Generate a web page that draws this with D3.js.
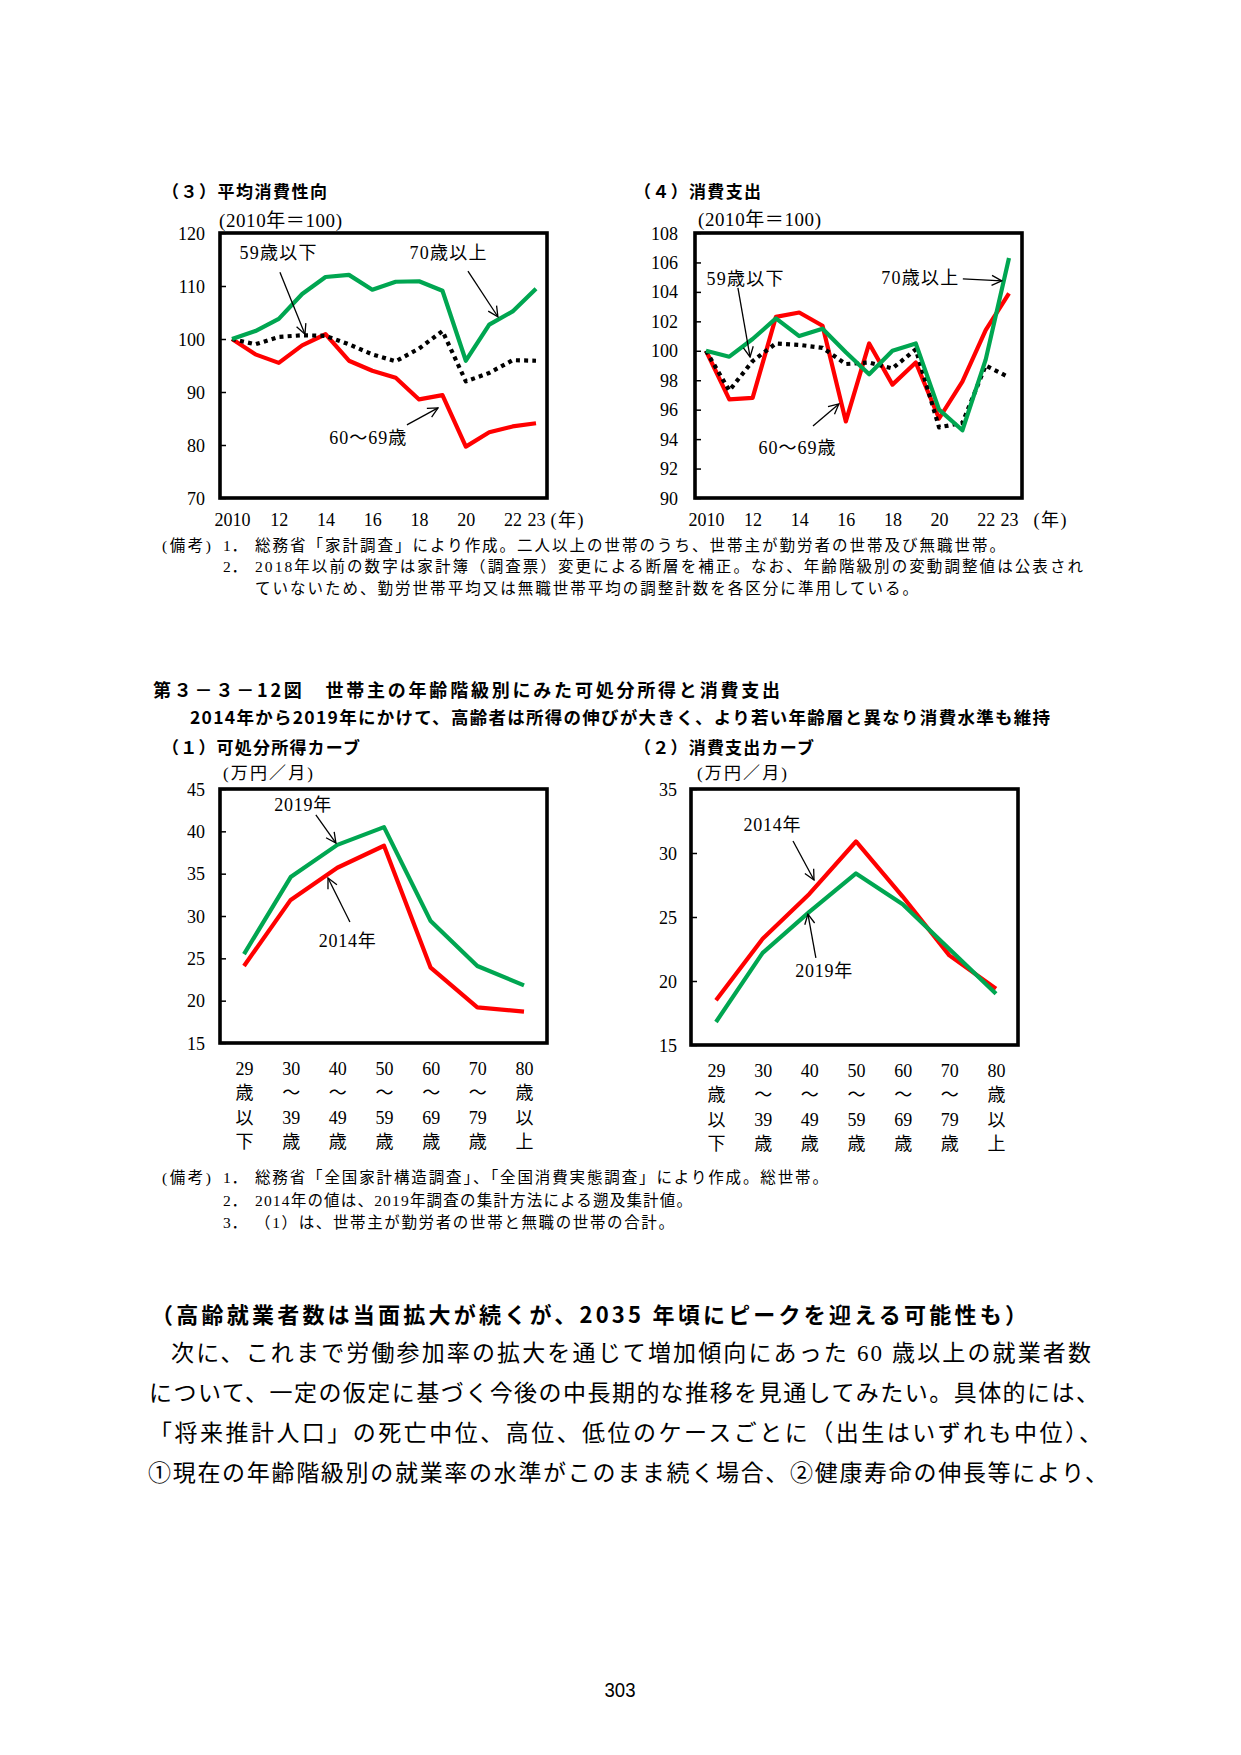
<!DOCTYPE html>
<html>
<head>
<meta charset="utf-8">
<script src="https://cdn.jsdelivr.net/npm/d3@7"></script>
<style>
  body { margin: 0; background: #fff; }
</style>
</head>
<body>
<script>
// ---- data ----
const years = [2010, 2011, 2012, 2013, 2014, 2015, 2016, 2017, 2018, 2019, 2020, 2021, 2022, 2023];
const yearTicks = [2010, 2012, 2014, 2016, 2018, 2020, 2022, 2023];
const yearTickLabels = ["2010", "12", "14", "16", "18", "20", "22", "23"];

// (3) average propensity to consume, 2010 = 100
const apcUnder59 = [100, 99.0, 100.4, 100.7, 100.6, 99.0, 97.1, 95.8, 98.2, 101.5, 92.0, 93.6, 96.0, 95.9];
const apc60s     = [100, 97.1, 95.5, 98.8, 100.9, 95.9, 94.0, 92.7, 88.6, 89.4, 79.7, 82.4, 83.5, 84.1];
const apc70plus  = [100, 101.5, 103.8, 108.5, 111.7, 112.1, 109.3, 110.8, 110.9, 109.1, 95.9, 102.7, 105.2, 109.5];
const apcTicks = [70, 80, 90, 100, 110, 120];

// (4) consumption expenditure, 2010 = 100
const spendUnder59 = [100, 97.3, 99.3, 100.5, 100.4, 100.2, 99.1, 99.2, 98.8, 100.1, 94.8, 95.1, 99.0, 98.2];
const spend60s     = [100, 96.7, 96.8, 102.3, 102.6, 101.7, 95.2, 100.5, 97.7, 99.2, 95.4, 97.9, 101.4, 103.9];
const spend70plus  = [100, 99.6, 100.8, 102.2, 101.0, 101.5, 99.9, 98.4, 100.0, 100.5, 96.0, 94.6, 99.4, 106.3];
const spendTicks = [90, 92, 94, 96, 98, 100, 102, 104, 106, 108];

// fig 3-3-12, by age of household head (10k yen / month)
const ageGroups = [
  ["29", "歳", "以", "下"], ["30", "～", "39", "歳"], ["40", "～", "49", "歳"], ["50", "～", "59", "歳"],
  ["60", "～", "69", "歳"], ["70", "～", "79", "歳"], ["80", "歳", "以", "上"]
];
const income2014 = [24.1, 31.9, 35.7, 38.3, 23.9, 19.2, 18.7];
const income2019 = [25.5, 34.6, 38.4, 40.5, 29.4, 24.1, 21.8];
const incomeTicks = [15, 20, 25, 30, 35, 40, 45];
const curve2014 = [18.5, 23.3, 26.8, 30.9, 26.6, 22.0, 19.4];
const curve2019 = [16.8, 22.2, 25.4, 28.4, 26.0, 22.5, 19.0];
const curveTicks = [15, 20, 25, 30, 35];

const RED = "#ff0000", GREEN = "#00a651";
const serif = "'Liberation Serif', 'Noto Sans CJK JP', serif";
const gothic = "'Noto Sans CJK JP', sans-serif";

const svg = d3.select("body").append("svg")
    .attr("width", 1241).attr("height", 1755)
    .style("display", "block");
svg.append("rect").attr("width", 1241).attr("height", 1755).attr("fill", "#fff");

svg.append("defs").append("marker")
    .attr("id", "arr")
    .attr("viewBox", "0 0 12 12")
    .attr("refX", 11).attr("refY", 6)
    .attr("markerWidth", 12).attr("markerHeight", 12)
    .attr("markerUnits", "userSpaceOnUse")
    .attr("orient", "auto")
  .append("path")
    .attr("d", "M1,1 L11,6 L1,11")
    .attr("fill", "none").attr("stroke", "#000").attr("stroke-width", 1.3);

function label(sel, s, x, y, o = {}) {
  const t = sel.append("text")
      .attr("x", x).attr("y", y)
      .attr("dominant-baseline", "central")
      .attr("font-family", o.family || serif)
      .attr("font-size", o.size || 16)
      .attr("font-weight", o.weight || 400)
      .attr("text-anchor", o.anchor || "start")
      .attr("fill", "#000")
      .text(s);
  if (o.len) t.attr("textLength", o.len).attr("lengthAdjust", o.adjust || "spacing");
  return t;
}

function lineChart(c) {
  const g = svg.append("g");
  const x = d3.scaleLinear().domain(c.xDomain).range(c.xRange);
  const y = d3.scaleLinear().domain(c.yDomain).range([c.box[3], c.box[1]]);

  g.append("g")
      .attr("transform", `translate(${c.box[0]},0)`)
      .call(d3.axisLeft(y).tickValues(c.yTicks).tickSize(-6).tickPadding(c.pad))
      .call(a => a.select(".domain").remove())
      .call(a => a.selectAll("line").attr("stroke", "#000").attr("stroke-width", 1.5))
      .call(a => a.selectAll("text")
          .attr("font-family", serif).attr("font-size", 18).attr("fill", "#000")
          .attr("dy", null).attr("dominant-baseline", "central"));

  const line = d3.line()
      .x((d, i) => x(c.xs[i]))
      .y(d => y(d));

  c.series.forEach(s => {
    g.append("path")
        .datum(s.values)
        .attr("d", line)
        .attr("fill", "none")
        .attr("stroke", s.color)
        .attr("stroke-width", 4.2)
        .attr("stroke-linejoin", "round")
        .attr("stroke-dasharray", s.dash || null);
  });

  g.append("rect")
      .attr("x", c.box[0]).attr("y", c.box[1])
      .attr("width", c.box[2] - c.box[0]).attr("height", c.box[3] - c.box[1])
      .attr("fill", "none").attr("stroke", "#000").attr("stroke-width", 3.6);

  (c.notes || []).forEach(n => {
    label(g, n.text, x(n.at[0]), y(n.at[1]), { size: 18, anchor: "middle", len: n.len });
    g.append("line")
        .attr("x1", x(n.from[0])).attr("y1", y(n.from[1]))
        .attr("x2", x(n.to[0])).attr("y2", y(n.to[1]))
        .attr("stroke", "#000").attr("stroke-width", 1.3)
        .attr("marker-end", "url(#arr)");
  });

  return { g, x, y };
}

// ---------- (3) 平均消費性向 ----------
label(svg, "（３）平均消費性向", 162, 190, { family: gothic, weight: 700, size: 17, len: 165 });
label(svg, "(2010年＝100)", 219, 220, { size: 19, len: 123 });
const c3 = lineChart({
  box: [220, 233, 547, 498], xDomain: [2010, 2023], xRange: [232, 536],
  yDomain: [70, 120], yTicks: apcTicks, pad: 15, xs: years,
  series: [
    { values: apc60s, color: RED },
    { values: apcUnder59, color: "#000", dash: "4,4.2" },
    { values: apc70plus, color: GREEN }
  ],
  notes: [
    { text: "59歳以下", at: [2011.97, 116.2], len: 77, from: [2012.05, 112.6], to: [2013.12, 100.9] },
    { text: "70歳以上", at: [2019.24, 116.2], len: 77, from: [2020.09, 112.8], to: [2021.37, 104.2] },
    { text: "60～69歳", at: [2015.8, 81.3], len: 77, from: [2017.48, 83.8], to: [2018.81, 87.0] }
  ]
});

// ---------- (4) 消費支出 ----------
label(svg, "（４）消費支出", 634, 190, { family: gothic, weight: 700, size: 17, len: 127 });
label(svg, "(2010年＝100)", 698, 219, { size: 19, len: 123 });
const c4 = lineChart({
  box: [695, 233, 1022, 498], xDomain: [2010, 2023], xRange: [706, 1009],
  yDomain: [90, 108], yTicks: spendTicks, pad: 17, xs: years,
  series: [
    { values: spend60s, color: RED },
    { values: spendUnder59, color: "#000", dash: "4,4.2" },
    { values: spend70plus, color: GREEN }
  ],
  notes: [
    { text: "59歳以下", at: [2011.67, 104.88], len: 77, from: [2011.37, 104.27], to: [2011.89, 99.58] },
    { text: "70歳以上", at: [2019.17, 104.95], len: 77, from: [2021.02, 104.88], to: [2022.69, 104.75] },
    { text: "60～69歳", at: [2013.9, 93.4], len: 77, from: [2014.59, 94.89], to: [2015.7, 96.39] }
  ]
});

// year axes under (3) and (4)
[c3, c4].forEach((c, k) => {
  const bottom = 498;
  svg.append("g")
      .attr("transform", `translate(0,${bottom})`)
      .call(d3.axisBottom(c.x).tickValues(yearTicks).tickSize(0)
          .tickFormat((d, i) => yearTickLabels[i]))
      .call(a => a.select(".domain").remove())
      .call(a => a.selectAll("text")
          .attr("font-family", serif).attr("font-size", 18).attr("fill", "#000")
          .attr("y", 22).attr("dy", null).attr("dominant-baseline", "central"));
  label(svg, "(年)", k === 0 ? 567 : 1050, 520, { size: 18, anchor: "middle", len: 33 });
});

// notes for (3)(4)
const noteSize = 15.5;
label(svg, "(備考)", 162, 545, { size: noteSize, len: 49 });
label(svg, "1．", 223, 545, { size: noteSize, len: 24 });
label(svg, "総務省「家計調査」により作成。二人以上の世帯のうち、世帯主が勤労者の世帯及び無職世帯。", 255, 545, { size: noteSize, len: 750 });
label(svg, "2．", 223, 566, { size: noteSize, len: 24 });
label(svg, "2018年以前の数字は家計簿（調査票）変更による断層を補正。なお、年齢階級別の変動調整値は公表され", 255, 566, { size: noteSize, len: 828 });
label(svg, "ていないため、勤労世帯平均又は無職世帯平均の調整計数を各区分に準用している。", 255, 588, { size: noteSize, len: 663 });

// ---------- 第３－３－12図 ----------
label(svg, "第３－３－12図　世帯主の年齢階級別にみた可処分所得と消費支出", 153, 689, { family: gothic, weight: 700, size: 18, len: 627 });
label(svg, "2014年から2019年にかけて、高齢者は所得の伸びが大きく、より若い年齢層と異なり消費水準も維持", 190, 716, { family: gothic, weight: 700, size: 17.5, len: 860 });
label(svg, "（１）可処分所得カーブ", 162, 746, { family: gothic, weight: 700, size: 17, len: 198 });
label(svg, "（２）消費支出カーブ", 634, 746, { family: gothic, weight: 700, size: 17, len: 180 });
label(svg, "(万円／月)", 223, 773, { size: 17, len: 90 });
label(svg, "(万円／月)", 697, 773, { size: 17, len: 90 });

const c1 = lineChart({
  box: [220, 789, 547, 1043], xDomain: [0, ageGroups.length - 1], xRange: [244, 524],
  yDomain: [15, 45], yTicks: incomeTicks, pad: 15, xs: d3.range(ageGroups.length),
  series: [
    { values: income2014, color: RED },
    { values: income2019, color: GREEN }
  ],
  notes: [
    { text: "2019年", at: [1.26, 43.1], len: 57, from: [1.54, 41.93], to: [1.97, 38.62] },
    { text: "2014年", at: [2.21, 27.1], len: 57, from: [2.27, 29.29], to: [1.8, 34.49] }
  ]
});

const c2 = lineChart({
  box: [691, 789, 1018, 1045], xDomain: [0, ageGroups.length - 1], xRange: [716, 996],
  yDomain: [15, 35], yTicks: curveTicks, pad: 14, xs: d3.range(ageGroups.length),
  series: [
    { values: curve2014, color: RED },
    { values: curve2019, color: GREEN }
  ],
  notes: [
    { text: "2014年", at: [1.2, 32.19], len: 57, from: [1.65, 30.94], to: [2.1, 27.89] },
    { text: "2019年", at: [2.31, 20.78], len: 57, from: [2.14, 21.8], to: [1.97, 25.23] }
  ]
});

// stacked age labels under the curves
[[c1, 1043], [c2, 1045]].forEach(([c, bottom]) => {
  svg.append("g")
      .attr("transform", `translate(0,${bottom})`)
      .call(d3.axisBottom(c.x).tickValues(d3.range(ageGroups.length)).tickSize(0))
      .call(a => a.select(".domain").remove())
      .call(a => a.selectAll("text")
          .attr("font-family", serif).attr("font-size", 18).attr("fill", "#000")
          .attr("dy", null).attr("dominant-baseline", "central")
          .each(function(d) {
            const t = d3.select(this).text(null);
            ageGroups[d].forEach((s, k) => {
              t.append("tspan").attr("x", 0).attr("y", 26 + k * 24.4).text(s);
            });
          }));
});

// notes for 3-3-12
label(svg, "(備考)", 162, 1177, { size: noteSize, len: 49 });
label(svg, "1．", 223, 1177, { size: noteSize, len: 24 });
label(svg, "総務省「全国家計構造調査」、「全国消費実態調査」により作成。総世帯。", 255, 1177, { size: noteSize, len: 573 });
label(svg, "2．", 223, 1200, { size: noteSize, len: 24 });
label(svg, "2014年の値は、2019年調査の集計方法による遡及集計値。", 255, 1200, { size: noteSize, len: 437 });
label(svg, "3．", 223, 1222, { size: noteSize, len: 24 });
label(svg, "（1）は、世帯主が勤労者の世帯と無職の世帯の合計。", 255, 1222, { size: noteSize, len: 419 });

// ---------- body text ----------
label(svg, "（高齢就業者数は当面拡大が続くが、2035 年頃にピークを迎える可能性も）", 151, 1313, { family: gothic, weight: 700, size: 22, len: 876 });
label(svg, "次に、これまで労働参加率の拡大を通じて増加傾向にあった 60 歳以上の就業者数", 171, 1353, { size: 23, len: 920 });
label(svg, "について、一定の仮定に基づく今後の中長期的な推移を見通してみたい。具体的には、", 149, 1393, { size: 23, len: 950 });
label(svg, "「将来推計人口」の死亡中位、高位、低位のケースごとに（出生はいずれも中位）、", 149, 1433, { size: 23, len: 953 });
label(svg, "①現在の年齢階級別の就業率の水準がこのまま続く場合、②健康寿命の伸長等により、", 148, 1473, { size: 23, len: 960 });

label(svg, "303", 620, 1690, { family: "'Liberation Sans Narrow', 'Liberation Sans', sans-serif", size: 20, anchor: "middle", len: 31, adjust: "spacingAndGlyphs" });
</script>
</body>
</html>
